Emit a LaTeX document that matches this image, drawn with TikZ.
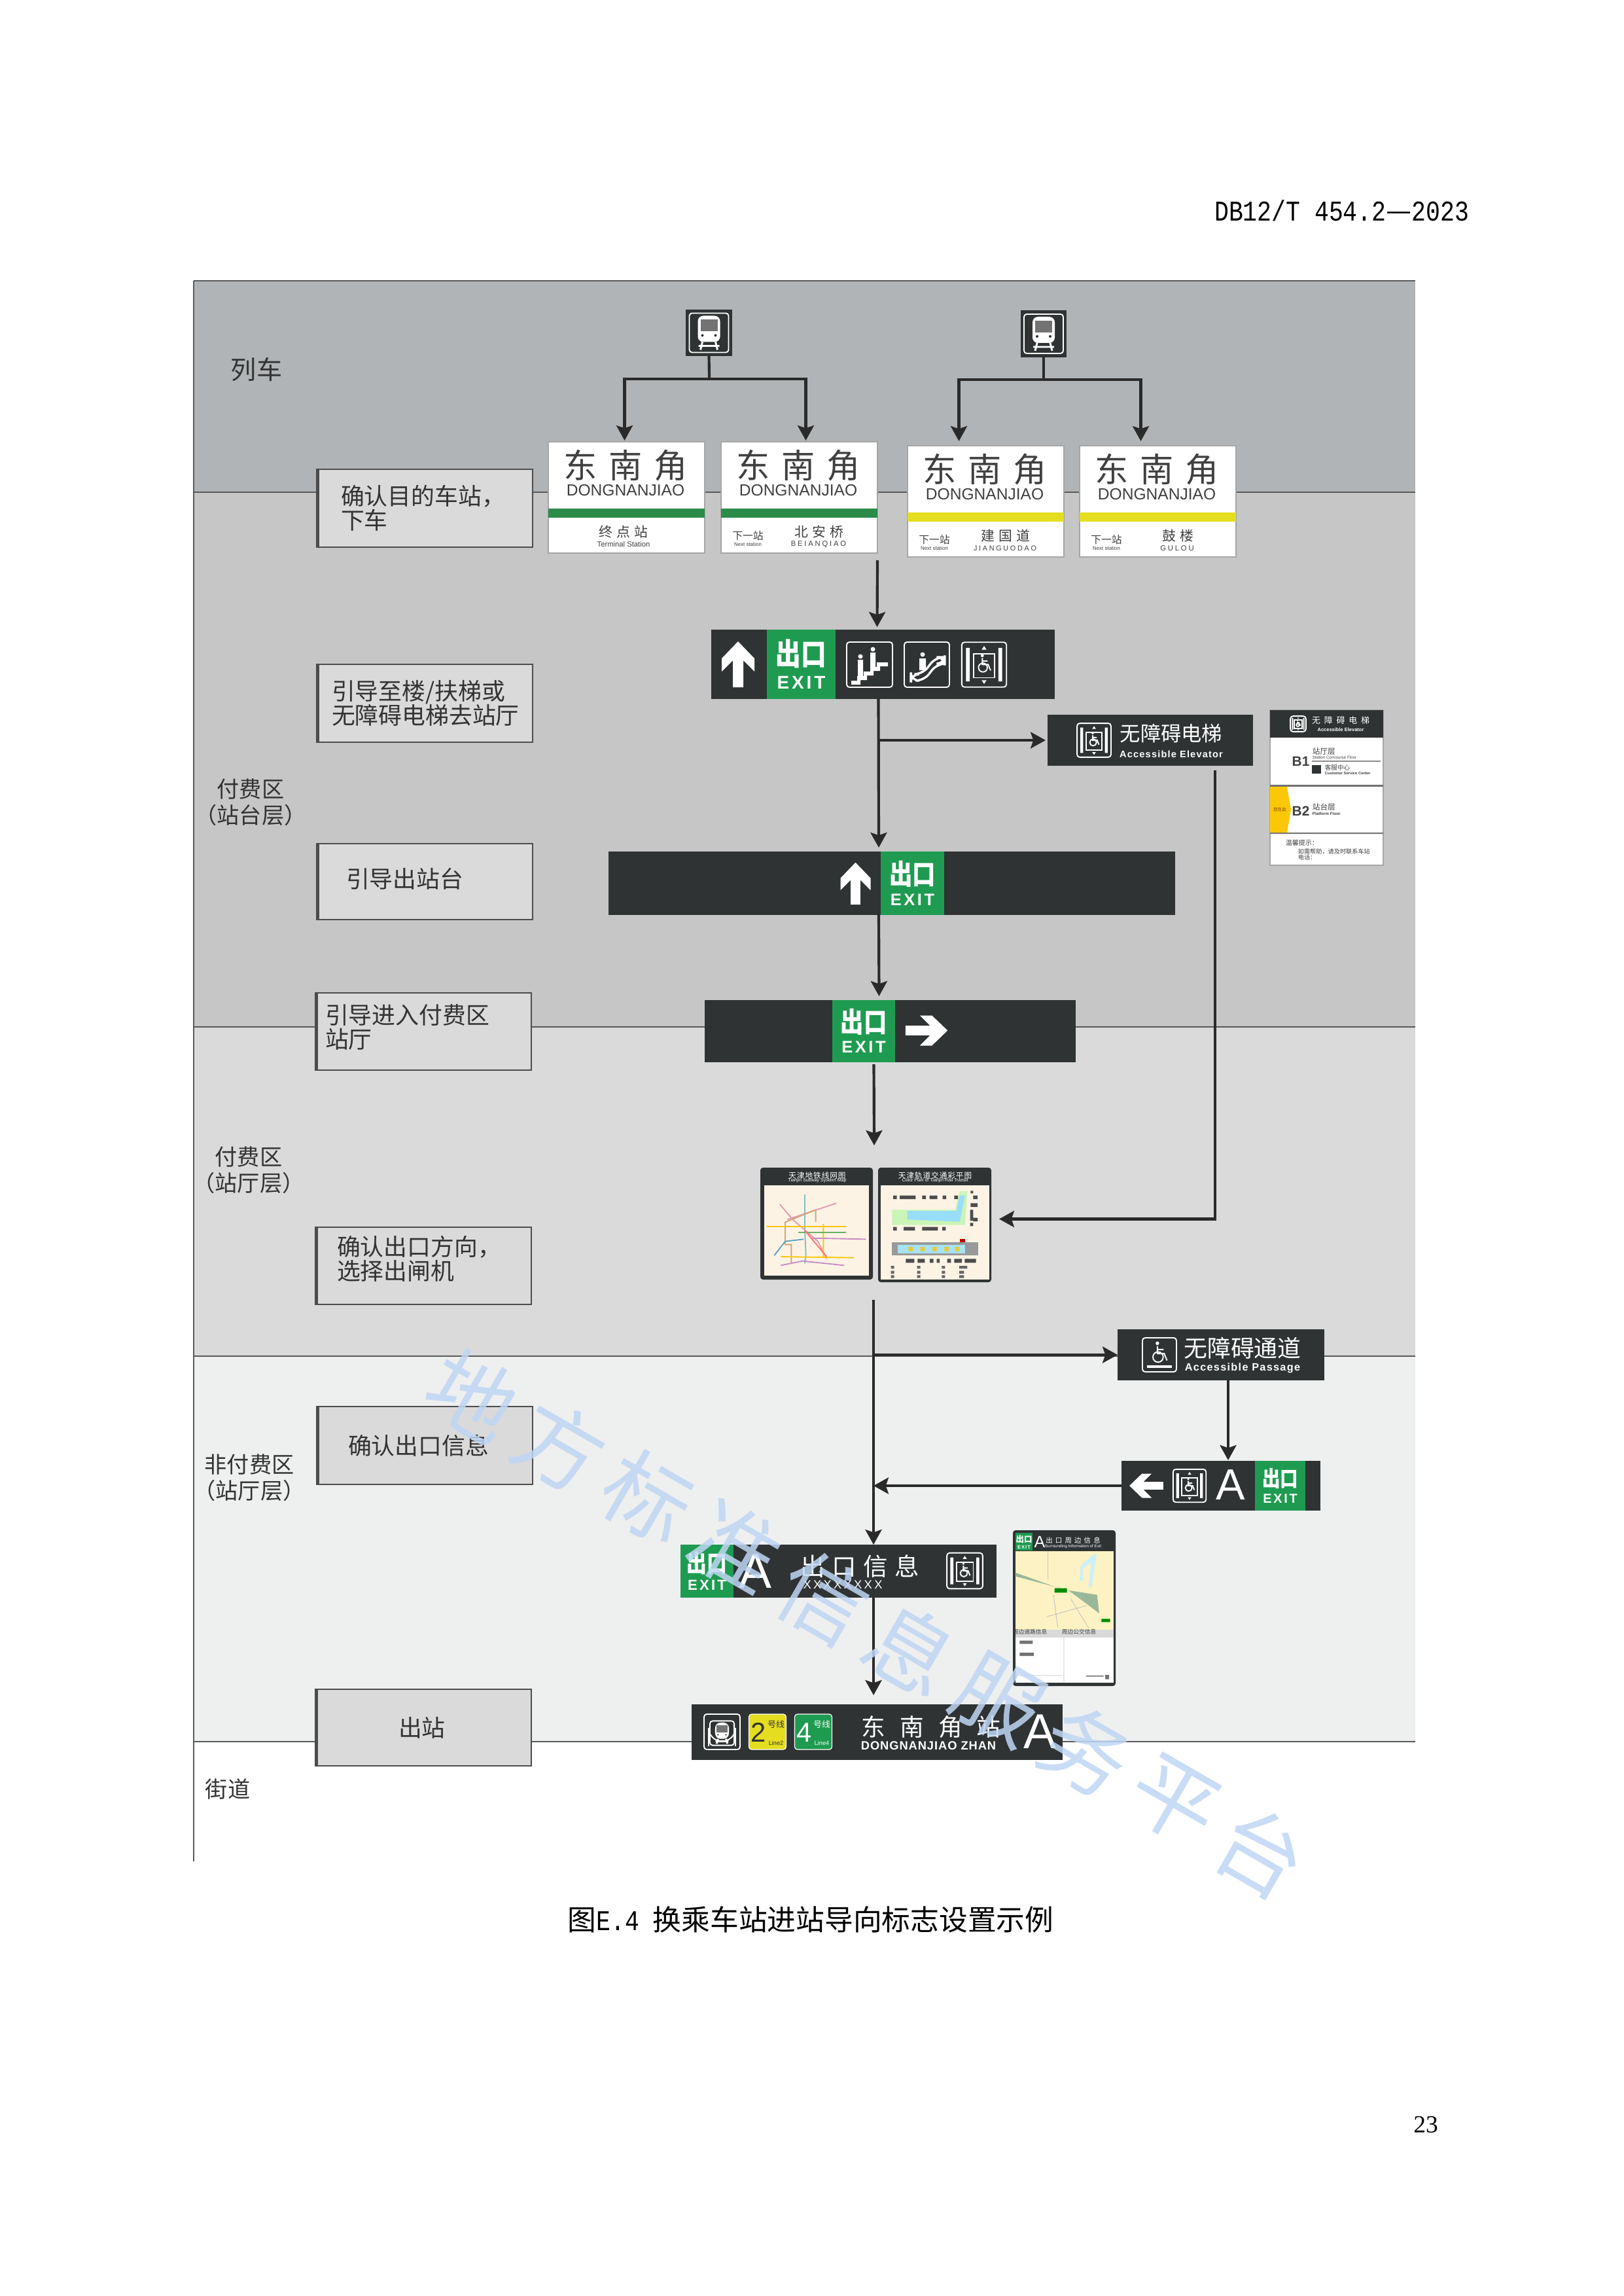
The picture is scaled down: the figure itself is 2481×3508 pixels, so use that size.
\documentclass[tikz,border=0pt]{standalone}
\usepackage{fontspec}
\setmainfont{Noto Sans CJK SC}
\newfontfamily\latinfam{Liberation Sans}
\newfontfamily\monofam{Liberation Mono}
\newfontfamily\seriffam{Liberation Serif}
\usetikzlibrary{arrows.meta, calc}

\definecolor{bandone}{HTML}{B1B4B6}
\definecolor{bandtwo}{HTML}{C6C6C6}
\definecolor{bandthree}{HTML}{DADADA}
\definecolor{bandfour}{HTML}{EEEFEF}
\definecolor{signdark}{HTML}{2F3333}
\definecolor{exitgreen}{HTML}{1E9B50}
\definecolor{linegreen}{HTML}{2B8C4A}
\definecolor{lineyellow}{HTML}{E5DD1F}
\definecolor{flowdark}{HTML}{2A2A2A}
\definecolor{mapcream}{HTML}{FDF3E5}
\definecolor{wmblue}{HTML}{BFD6F4}

\newcommand{\px}{*0.24pt}
\newcommand{\fs}[1]{\fontsize{#1}{#1}\selectfont}
\newcommand{\tracked}[2]{{\addfontfeature{LetterSpace=#1}#2}}
\newcommand{\narrowmono}[1]{\scalebox{0.833}[1]{\monofam\fs{10.5}#1}}

\tikzset{
  plate/.style={rectangle, inner sep=0pt, outer sep=0pt},
  darkplate/.style={plate, fill=signdark},
  greenplate/.style={plate, fill=exitgreen},
  whiteplate/.style={plate, fill=white, draw=black!35, line width=0.4pt},
  labelbox/.style={plate, fill=bandthree, draw=black!70, line width=0.45pt, align=left,
    font=\fontsize{8.6}{8.9}\selectfont, text=black!80},
  zonelabel/.style={inner sep=0pt, align=center, font=\fontsize{8.2}{9.6}\selectfont, text=black!80},
  signtext/.style={inner sep=0pt, text=white, align=center},
  inktext/.style={inner sep=0pt, text=black!75, align=center},
  flowline/.style={draw=flowdark, line width=1pt},
  flowarrow/.style={flowline, -{Stealth[length=5.5pt, width=6pt, inset=1pt]}},
  bandline/.style={draw=black!65, line width=0.35pt},
  icon/.style={draw=white, line width=0.45pt},
  watermark/.style={inner sep=0pt, rotate=-30, text=wmblue, opacity=0.85, font=\fs{32}}
}

% A rectangular node given by its corners.
\newcommand{\plate}[7][plate]{%
  \node[#1, minimum width=(#5-#3)\px, minimum height=(#6-#4)\px] (#2)
    at ({(#3+#5)/2},{(#4+#6)/2}) {#7};}
% Grey step box; the text starts #6 px from its left side.
\newcommand{\stepbox}[7]{%
  \node[labelbox, minimum width=(#4-#2)\px, minimum height=(#5-#3)\px,
    inner xsep=#6\px, text width=(#4-#2-2*#6)\px] (#1)
    at ({(#2+#4)/2},{(#3+#5)/2}) {#7};
  \fill[black!70] (#2,#3) rectangle ++(4,#5-#3);}
% Green exit panel: corners, size of the Chinese text.
\newcommand{\exitmark}[6]{%
  \pgfmathsetmacro{\exitsize}{#6*0.72}%
  \plate[greenplate]{#1}{#2}{#3}{#4}{#5}{}
  \node[signtext, font=\fs{#6}\bfseries] (#1-cn) at ({(#2+#4)/2},{#3+0.35*(#5-#3)}) {\scalebox{1}[1.2]{出口}};
  \node[signtext, font=\latinfam\bfseries\fontsize{\exitsize}{\exitsize}\selectfont] (#1-en)
    at ({(#2+#4)/2},{#3+0.76*(#5-#3)}) {\tracked{14}{EXIT}};}
% White block arrow, pointing up before rotation.
\newcommand{\blockarrow}[4]{%
  \fill[white, shift={(#1,#2)}, rotate=#3, scale=#4] (0,-35) -- (25,-9) -- (25,11) -- (8,-6)
    -- (8,35) -- (-8,35) -- (-8,-6) -- (-25,11) -- (-25,-9) -- cycle;}
\newcommand{\wheelie}{%
  \fill[white] (-3,-13) circle (2.6);
  \draw[icon] (-3,-9) -- (-3,2) -- (7,2) -- (11,12) (-3,-4) -- (6,-4);
  \draw[icon] (-2,7) circle (7.5);}
\newcommand{\lifticon}[3]{%
  \begin{scope}[shift={(#1,#2)}, scale=#3]
    \draw[icon, rounded corners=1pt] (-36,-36) rectangle (36,36);
    \fill[white] (-29,-27) rectangle (-23,27) (23,-27) rectangle (29,27);
    \draw[icon] (-17,-17) rectangle (17,21);
    \fill[white] (0,-30) -- (4,-24) -- (-4,-24) -- cycle (0,31) -- (4,25) -- (-4,25) -- cycle;
    \begin{scope}[yshift=2\px, scale=0.95]\wheelie\end{scope}
  \end{scope}}
\newcommand{\trainicon}[3]{%
  \begin{scope}[shift={(#1,#2)}, scale=#3]
    \draw[icon, rounded corners=1pt] (-30,-30) rectangle (30,30);
    \fill[white, rounded corners=2pt] (-17,-26) rectangle (17,14);
    \fill[black!55] (-13,-20) rectangle (13,-2);
    \fill[signdark] (-10,4) circle (2) (10,4) circle (2);
    \draw[icon, line width=0.7pt] (-10,14) -- (-13,26) (10,14) -- (13,26) (-16,20) -- (16,20);
  \end{scope}}
% Station name sign: name, top left corner, band colour.
\newcommand{\stationsign}[4]{%
  \plate[whiteplate]{#1}{#2}{#3}{#2+239}{#3+170}{}
  \fill[#4] (#2,#3+102) rectangle (#2+239,#3+116);
  \node[inktext, font=\fs{12.3}] (#1-cn) at (#2+118,#3+36) {\tracked{35}{东南角}};
  \node[inktext, font=\latinfam\fs{5.9}] (#1-py) at (#2+118,#3+74) {DONGNANJIAO};}
\newcommand{\nextstop}[4]{%
  \node[inktext, font=\fs{3.8}] (#1-nx) at (#2+41,#3+143) {下一站};
  \node[inktext, font=\latinfam\fs{1.9}] (#1-nxe) at (#2+41,#3+157) {Next station};
  \node[inktext, font=\fs{5}] (#1-st) at (#2+150,#3+138) {\tracked{30}{#4}};}
\newcommand{\linebadge}[6]{%
  \node[plate, fill=#2, rounded corners=1pt, draw=white, line width=0.3pt,
    minimum width=57\px, minimum height=54\px] (#1) at (#3,#4) {};
  \node[inner sep=0pt, text=#5, font=\latinfam\fs{10}] (#1-n) at (#3-14,#4+1) {#6};
  \node[inner sep=0pt, text=#5, font=\fs{3.1}] (#1-c) at (#3+13,#4-11) {号线};
  \node[inner sep=0pt, text=#5, font=\latinfam\fs{2.2}] (#1-e) at (#3+13,#4+17) {Line#6};}

\begin{document}
\begin{tikzpicture}[x=0.24pt, y=-0.24pt]
  \useasboundingbox (0,0) rectangle (2481,3508);
  % Page furniture.
  \node[inner sep=0pt, anchor=east, font=\fs{10.5}] (pagehead) at (2246,322) {\narrowmono{DB12/T 454.2}—\narrowmono{2023}};
  \node[inner sep=0pt, font=\fs{10.5}] (caption) at (1239,2933) {图\narrowmono{E.4}\hspace{5pt}换乘车站进站导向标志设置示例};
  \node[inner sep=0pt, font=\seriffam\fs{9}] (pageno) at (2179,3246) {23};

  % Floor bands.
  \fill[bandone] (296,429) rectangle (2163,752);
  \fill[bandtwo] (296,752) rectangle (2163,1569);
  \fill[bandthree] (296,1569) rectangle (2163,2072);
  \fill[bandfour] (296,2072) rectangle (2163,2661);
  \draw[bandline] (296,429) -- (2163,429) (296,752) -- (2163,752) (296,1569) -- (2163,1569)
    (296,2072) -- (2163,2072) (296,2661) -- (2163,2661);
  \draw[draw=black!65, line width=0.5pt] (296,429) -- (296,2844);
  \node[zonelabel, font=\fs{9.4}] (zonetrain) at (392,565) {列车};
  \node[zonelabel] (zoneplat) at (383,1226) {付费区\\（站台层）};
  \node[zonelabel] (zonehall) at (380,1788) {付费区\\（站厅层）};
  \node[zonelabel] (zonefree) at (381,2258) {非付费区\\（站厅层）};
  \node[zonelabel] (zonestreet) at (348,2733) {街道};

  % Step boxes on the left.
  \stepbox{confirm}{484}{717}{814}{836}{37}{确认目的车站，\\下车}
  \stepbox{tolift}{484}{1015}{814}{1134}{23}{引导至楼/扶梯或\\无障碍电梯去站厅}
  \stepbox{leave}{484}{1289}{814}{1405}{45}{引导出站台\par\vspace{2.2pt}}
  \stepbox{enter}{482}{1517}{812}{1635}{15}{引导进入付费区\\站厅\par\vspace{3.4pt}}
  \stepbox{gate}{482}{1875}{812}{1993}{33}{确认出口方向，\\选择出闸机\par\vspace{5.3pt}}
  \stepbox{check}{484}{2149}{814}{2268}{48}{确认出口信息}
  \stepbox{out}{482}{2581}{812}{2698}{127}{出站}

  % Train icons.
  \plate[darkplate]{trainl}{1048}{473}{1119}{544}{}
  \trainicon{1083.5}{508.5}{1}
  \plate[darkplate]{trainr}{1560}{474}{1630}{546}{}
  \trainicon{1595}{510}{1}

  % Station signs.
  \stationsign{signa}{838}{675}{linegreen}
  \node[inktext, font=\fs{5}] (signa-st) at (953,813) {\tracked{30}{终点站}};
  \node[inktext, font=\latinfam\fs{2.7}] (signa-en) at (953,831) {Terminal Station};
  \stationsign{signb}{1102}{675}{linegreen}
  \nextstop{signb}{1102}{675}{北安桥}
  \node[inktext, font=\latinfam\fs{2.7}] (signb-en) at (1251,832) {\tracked{25}{BEIANQIAO}};
  \stationsign{signc}{1387}{681}{lineyellow}
  \nextstop{signc}{1387}{681}{建国道}
  \node[inktext, font=\latinfam\fs{2.6}] (signc-en) at (1536,838) {\tracked{25}{JIANGUODAO}};
  \stationsign{signd}{1650}{681}{lineyellow}
  \nextstop{signd}{1650}{681}{鼓楼}
  \node[inktext, font=\latinfam\fs{2.7}] (signd-en) at (1799,838) {\tracked{25}{GULOU}};

  % Stairs, escalator and lift sign.
  \plate[darkplate]{stair}{1087}{962}{1612}{1068}{}
  \exitmark{stairexit}{1172}{962}{1277}{1068}{9.3}
  \blockarrow{1128}{1015}{0}{1}
  \draw[icon, rounded corners=1pt] (1294,981) rectangle (1364,1050);
  \fill[white] (1301,1046) -- (1301,1040) -- (1310,1040) -- (1310,1033) -- (1320,1033) -- (1320,1026)
    -- (1330,1026) -- (1330,1019) -- (1340,1019) -- (1340,1012) -- (1357,1012) -- (1357,1018)
    -- (1345,1018) -- (1345,1025) -- (1335,1025) -- (1335,1032) -- (1325,1032) -- (1325,1039)
    -- (1315,1039) -- (1315,1046) -- cycle;
  \fill[white] (1315,1003) circle (3.5) (1334,992) circle (3.5);
  \fill[white] (1311,1008) rectangle (1319,1034) (1330,997) rectangle (1338,1022);
  \draw[icon, rounded corners=1pt] (1382,981) rectangle (1451,1050);
  \draw[white, line width=0.8pt, rounded corners=3pt] (1392,1040) -- (1392,1030) -- (1410,1030)
    -- (1430,1004) -- (1444,1004) -- (1444,1014) -- (1432,1014) -- (1412,1040) -- cycle;
  \fill[white] (1410,1000) circle (3.5) (1405,1006) rectangle (1415,1024);
  \lifticon{1504}{1015.5}{0.95}

  % Lift direction sign and floor directory.
  \plate[darkplate]{lift}{1601}{1092}{1915}{1170}{}
  \lifticon{1672}{1131}{0.72}
  \node[signtext, font=\fs{7.5}] (lift-cn) at (1790,1121) {无障碍电梯};
  \node[signtext, font=\latinfam\bfseries\fs{3.5}] (lift-en) at (1790,1152) {\tracked{8}{Accessible Elevator}};
  \plate[whiteplate]{board}{1941}{1085}{2114}{1322}{}
  \fill[signdark] (1941,1085) rectangle (2114,1127);
  \fill[black!55] (1941,1199) rectangle (2114,1202) (1941,1272) rectangle (2114,1274);
  \fill[black!45] (2005,1162) rectangle (2110,1164);
  \fill[yellow!60!orange] (1941,1202) -- (1967,1202) -- (1973,1237) -- (1967,1272) -- (1941,1272) -- cycle;
  \lifticon{1984}{1106}{0.33}
  \node[signtext, font=\fs{3.1}] (board-cn) at (2049,1101) {\tracked{45}{无障碍电梯}};
  \node[signtext, font=\latinfam\bfseries\fs{1.8}] (board-en) at (2049,1115) {Accessible Elevator};
  \node[inktext, font=\latinfam\bfseries\fs{5}] (board-b1) at (1988,1163) {B1};
  \node[inktext, font=\fs{2.8}, anchor=west] (board-b1c) at (2005,1148) {站厅层};
  \node[inktext, font=\latinfam\fs{1.5}, anchor=west] (board-b1e) at (2005,1157) {Station Concourse Floor};
  \fill[signdark] (2005,1169) rectangle (2019,1182);
  \node[inktext, font=\fs{2.3}, anchor=west] (board-sv) at (2024,1173) {客服中心};
  \node[inktext, font=\latinfam\bfseries\fs{1.4}, anchor=west] (board-sve) at (2024,1181) {Customer Service Center};
  \node[inktext, font=\fs{1.6}, text=orange!50!black] (board-here) at (1956,1237) {您在此};
  \node[inktext, font=\latinfam\bfseries\fs{5}] (board-b2) at (1988,1239) {B2};
  \node[inktext, font=\fs{2.8}, anchor=west] (board-b2c) at (2005,1233) {站台层};
  \node[inktext, font=\latinfam\bfseries\fs{1.5}, anchor=west] (board-b2e) at (2005,1243) {Platform Floor};
  \node[inktext, font=\fs{2.4}, anchor=west] (board-tip) at (1964,1288) {温馨提示：};
  \node[inktext, font=\fs{2.2}, align=left, anchor=north west] (board-tipb) at (1983,1296) {如需帮助，请及时联系车站\\电话：};

  % Platform and concourse exit signs.
  \plate[darkplate]{platform}{930}{1301}{1796}{1398}{}
  \exitmark{platexit}{1346}{1301}{1443}{1398}{8.5}
  \blockarrow{1307.5}{1350}{0}{0.92}
  \plate[darkplate]{hall}{1077}{1528}{1644}{1623}{}
  \exitmark{hallexit}{1272}{1528}{1368}{1623}{8.5}
  \blockarrow{1416}{1574.5}{-90}{0.92}

  % Network map.
  \plate[darkplate, rounded corners=1pt]{mapl}{1162}{1784}{1334}{1955}{}
  \fill[mapcream] (1168,1811) rectangle (1328,1949);
  \node[signtext, font=\fs{2.8}] (mapl-cn) at (1249,1796) {\tracked{8}{天津地铁线网图}};
  \node[signtext, font=\latinfam\fs{1.7}] (mapl-en) at (1249,1804) {Tianjin Subway System Map};
  \begin{scope}[shift={(1150,1770)}, scale=1/3, line width=0.45pt]
    \draw[teal!50] (240,165) -- (240,330) -- (245,440) -- (240,480);
    \draw[purple!40] (125,210) -- (185,280) -- (300,380) -- (340,460) (160,280) -- (385,205);
    \draw[brown!70] (290,235) -- (290,290) (290,235) -- (150,292) -- (150,395) -- (178,395) -- (178,480);
    \draw[yellow!60!orange] (65,312) -- (430,312) (130,450) -- (465,455) (325,300) -- (325,450);
    \draw[green!50!black!60] (210,340) -- (430,340);
    \draw[violet!45] (270,365) -- (520,370) (130,490) -- (230,470) -- (420,490);
    \draw[cyan!40!teal!80] (100,445) -- (150,380) -- (235,370);
    \draw[red!55] (240,330) -- (340,450);
  \end{scope}

  % Line plan.
  \plate[darkplate, rounded corners=1pt]{mapr}{1342}{1784}{1515}{1959}{}
  \fill[mapcream] (1346,1811) rectangle (1512,1955);
  \node[signtext, font=\fs{2.8}] (mapr-cn) at (1429,1796) {\tracked{8}{天津轨道交通彩平图}};
  \node[signtext, font=\latinfam\fs{1.7}] (mapr-en) at (1429,1804) {Color Plan of Tianjin Rail Transit};
  \begin{scope}[shift={(1150,1770)}, scale=1/3]
    \fill[green!20!mapcream] (640,235) -- (930,235) -- (950,150) -- (985,150) -- (975,305) -- (640,305) -- cycle;
    \fill[cyan!40!white] (710,240) -- (935,240) -- (950,170) -- (975,170) -- (950,290) -- (710,280) -- cycle;
    \fill[black!40] (640,385) rectangle (1035,445);
    \fill[cyan!35!white] (665,395) rectangle (975,435);
    \fill[yellow!60!brown] (715,405) rectangle (735,425) (770,405) rectangle (790,425)
      (825,405) rectangle (845,425) (880,405) rectangle (900,425) (930,405) rectangle (950,425);
    \fill[red!75!black] (950,368) rectangle (975,385);
    \fill[black!70] (645,170) rectangle (662,186) (675,170) rectangle (748,186) (778,170) rectangle (795,186)
      (812,170) rectangle (848,186) (872,170) rectangle (888,186) (925,170) rectangle (942,186)
      (645,314) rectangle (662,330) (693,314) rectangle (745,330) (778,314) rectangle (850,330)
      (870,314) rectangle (886,330) (703,460) rectangle (742,478) (757,460) rectangle (790,478)
      (813,460) rectangle (830,478) (845,460) rectangle (858,478) (893,460) rectangle (910,478)
      (925,460) rectangle (960,478) (973,460) rectangle (1025,478)
      (1000,148) rectangle (1012,160) (1012,170) rectangle (1032,186) (1000,205) rectangle (1032,222)
      (998,235) rectangle (1012,285) (1012,272) rectangle (1032,288) (998,295) rectangle (1012,310);
    \fill[black!60] (635,492) rectangle (650,505) (755,492) rectangle (770,505) (868,492) rectangle (883,505)
      (948,492) rectangle (985,505) (635,515) rectangle (650,528) (755,515) rectangle (770,528)
      (868,515) rectangle (883,528) (948,515) rectangle (970,528) (635,535) rectangle (650,548)
      (755,535) rectangle (770,548) (868,535) rectangle (883,548) (948,535) rectangle (970,548);
  \end{scope}

  % Exit signs in the free area.
  \plate[darkplate]{passage}{1708}{2031}{2024}{2109}{}
  \draw[icon, rounded corners=1pt] (1746,2044) rectangle (1798,2096);
  \fill[white] (1753,2086) rectangle (1791,2090);
  \begin{scope}[shift={(1772,2066)}, scale=1.05]\wheelie\end{scope}
  \node[signtext, font=\fs{8.6}] (passage-cn) at (1899,2060) {无障碍通道};
  \node[signtext, font=\latinfam\bfseries\fs{3.9}] (passage-en) at (1899,2090) {\tracked{8}{Accessible Passage}};
  \plate[darkplate]{leftexit}{1714}{2232}{2018}{2308}{}
  \blockarrow{1752}{2270}{90}{0.74}
  \lifticon{1818}{2270}{0.7}
  \node[signtext, font=\latinfam\fs{16}] (leftexit-a) at (1881,2269) {A};
  \exitmark{leftgreen}{1918}{2232}{1995}{2308}{6.6}
  \plate[darkplate]{info}{1040}{2360}{1523}{2441}{}
  \exitmark{infogreen}{1040}{2360}{1121}{2441}{7.4}
  \node[signtext, font=\latinfam\fs{18}] (info-a) at (1154,2401) {A};
  \node[signtext, font=\fs{9}] (info-cn) at (1314,2393) {\tracked{28}{出口信息}};
  \node[signtext, font=\latinfam\fs{4.4}] (info-en) at (1288,2421) {\tracked{18}{XXXXXXXX}};
  \lifticon{1474.5}{2400}{0.76}

  % Surroundings plan.
  \plate[darkplate, rounded corners=1pt]{around}{1548}{2338}{1705}{2576}{}
  \begin{scope}[shift={(1540,2330)}, scale=1/3]
    \fill[white] (35,480) rectangle (485,722);
    \fill[yellow!14!mapcream] (35,120) rectangle (485,480);
    \fill[black!15] (35,480) rectangle (485,515);
    \fill[exitgreen] (35,35) rectangle (115,118);
    \fill[green!30!black!40] (35,218) -- (250,295) -- (410,320) -- (420,405) -- (280,300) -- (35,235) -- cycle;
    \fill[cyan!20] (330,255) -- (335,185) -- (395,135) -- (408,135) -- (385,285) -- (372,285) -- (382,170) -- (345,200) -- (345,255) -- cycle;
    \fill[green!55!black] (215,290) rectangle (272,310) (430,430) rectangle (470,445);
    \draw[black!25, line width=0.2pt] (185,120) -- (185,250) (210,320) -- (230,470) (290,340) -- (370,470)
      (180,420) -- (360,370) (258,515) -- (258,720) (35,690) -- (250,690);
    \fill[black!55] (55,530) rectangle (115,545) (55,585) rectangle (120,600) (360,690) rectangle (440,695)
      (447,687) rectangle (465,707);
  \end{scope}
  \node[signtext, font=\latinfam\fs{6}] (around-a) at (1589,2356) {A};
  \node[signtext, font=\fs{2.5}] (around-cn) at (1640,2353) {\tracked{40}{出口周边信息}};
  \node[signtext, font=\latinfam\fs{1.5}] (around-en) at (1640,2363) {Surrounding Information of Exit};
  \node[signtext, font=\fs{3}\bfseries] (around-ex) at (1565,2352) {出口};
  \node[signtext, font=\latinfam\bfseries\fs{1.8}] (around-ey) at (1565,2364) {\tracked{14}{EXIT}};
  \node[inktext, font=\fs{2.1}] (around-th) at (1574,2493) {周边道路信息};
  \node[inktext, font=\fs{2.1}] (around-tb) at (1649,2493) {周边公交信息};

  % Station entrance sign.
  \plate[darkplate]{entrance}{1057}{2604}{1624}{2689}{}
  \draw[icon, rounded corners=1pt] (1076,2619) rectangle (1131,2673);
  \draw[icon] (1083,2668) -- (1083,2640) arc (180:0:20.5) -- (1124,2668);
  \trainicon{1103.5}{2648}{0.62}
  \linebadge{lineii}{lineyellow}{1173}{2646}{black!80}{2}
  \linebadge{lineiv}{exitgreen}{1243}{2646}{white}{4}
  \node[signtext, font=\fs{8.8}] (entrance-cn) at (1423,2639) {\tracked{60}{东南角站}};
  \node[signtext, font=\latinfam\bfseries\fs{4.4}] (entrance-en) at (1419,2667) {\tracked{5}{DONGNANJIAO ZHAN}};
  \node[signtext, font=\latinfam\fs{18}] (entrance-a) at (1589,2646) {A};

  % Flow from the trains to the platform.
  \coordinate (forkl) at (1084,579);
  \coordinate (forkr) at (1595,580);
  \draw[flowline] (trainl.south) -- (forkl);
  \draw[flowline] (trainr.south) -- (forkr);
  \draw[flowarrow] (forkl) -| ($(signa.north)+(-3,-2)$);
  \draw[flowarrow] (forkl) -| ($(signb.north)+(10,-2)$);
  \draw[flowarrow] (forkr) -| ($(signc.north)+(-41,-7)$);
  \draw[flowarrow] (forkr) -| ($(signd.north)+(-26,-7)$);
  \draw[flowarrow] ($(signb.south east)+(0,11)$) -- ($(stair.north)+(-9,-4)$);
  % Main way down to the concourse.
  \draw[flowarrow] ($(stair.south)+(-7,0)$) -- ($(platform.north)+(-20,-6)$);
  \draw[flowarrow] ($(stair.south)+(-7,63)$) -- ($(lift.west)+(-3,0)$);
  \draw[flowarrow] ($(platform.south)+(-20,0)$) -- ($(hall.north)+(-17,-6)$);
  \draw[flowarrow] ($(hall.south)+(-25,3)$) -- ($(mapr.north west)+(-6,-34)$);
  \draw[flowarrow] ($(lift.south)+(99,7)$) |- ($(mapr.east)+(12,-9)$);
  % Way out through the free area.
  \coordinate (hallout) at (1335,1986);
  \draw[flowarrow] (hallout) -- (hallout |- info.north);
  \draw[flowarrow] (hallout |- passage.west) -- (passage.west);
  \draw[flowarrow] ($(passage.south)+(11,0)$) -- ($(leftexit.north)+(11,-1)$);
  \draw[flowarrow] (leftexit.west) -- (hallout |- leftexit.west);
  \draw[flowarrow] (hallout |- info.south) -- ($(hallout |- entrance.north)+(0,-14)$);

  % Watermark over everything.
  \foreach \wmchar [count=\i] in {地,方,标,准,信,息,服,务,平,台}
    \node[watermark] (wm\i) at ({722+134*(\i-1)},{2132+77.5*(\i-1)}) {\wmchar};
\end{tikzpicture}
\end{document}
